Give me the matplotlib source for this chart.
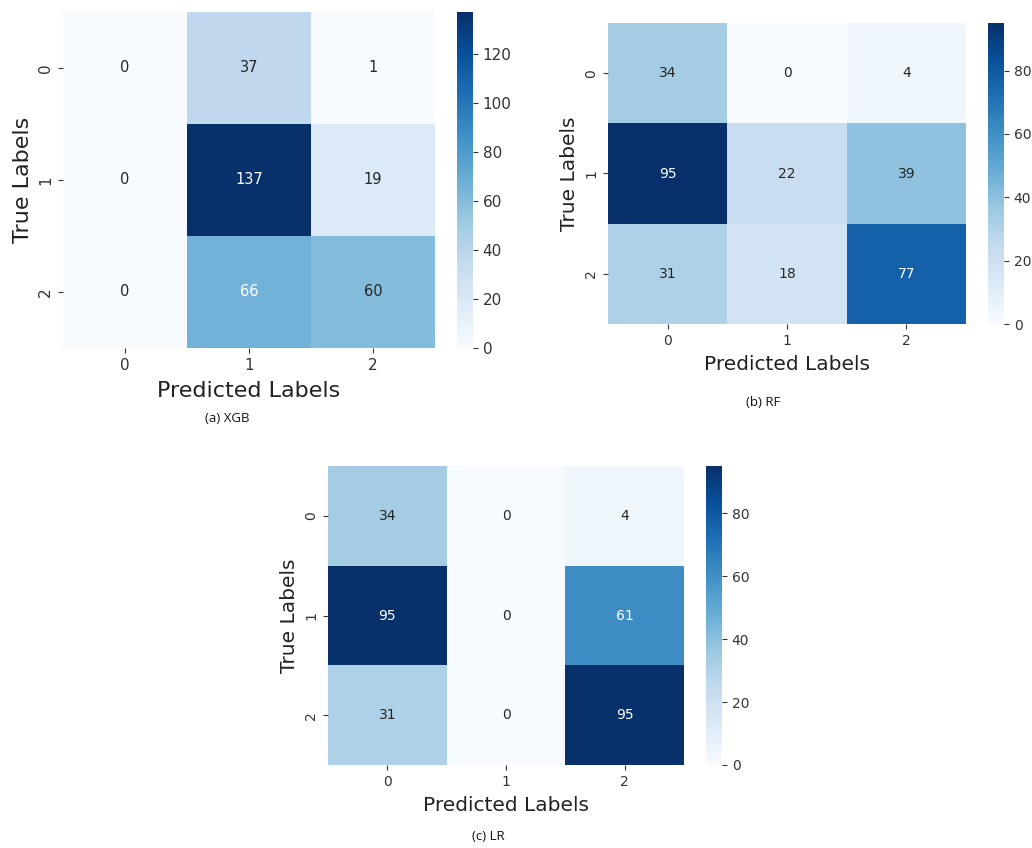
import matplotlib
matplotlib.use("Agg")
import matplotlib.pyplot as plt
import seaborn as sns
import numpy as np

# Confusion matrices (rows: true class, columns: predicted class)
class_labels = ["0", "1", "2"]
xgb_cm = [[0, 37, 1],
          [0, 137, 19],
          [0, 66, 60]]
rf_cm = [[34, 0, 4],
         [95, 22, 39],
         [31, 18, 77]]
lr_cm = [[34, 0, 4],
         [95, 0, 61],
         [31, 0, 95]]
captions = ["(a) XGB", "(b) RF", "(c) LR"]

W, H = 1032, 848
fig = plt.figure(figsize=(W / 100, H / 100), dpi=100)


def px_axes(x0, y0, x1, y1):
    """Add an axes given its box in pixels measured from the top-left corner."""
    return fig.add_axes([x0 / W, 1 - y1 / H, (x1 - x0) / W, (y1 - y0) / H])


panels = [
    # matrix, heatmap box, colorbar box, caption position, label sizes, xlabel pad
    (xgb_cm, (63, 12, 435, 348), (457, 12, 473, 348), (227, 419), 16, 11, 10.5, 6),
    (rf_cm, (608, 23, 966, 324), (988, 23, 1004, 324), (763, 403), 14.5, 10, 10, 5),
    (lr_cm, (328, 466, 684, 765), (706, 466, 722, 765), (488, 837), 14.5, 10, 10, 5),
]

for (cm, hbox, cbox, cap_xy, lab_fs, tick_fs, ann_fs, xpad), caption in zip(panels, captions):
    ax = px_axes(*hbox)
    cax = px_axes(*cbox)
    sns.heatmap(np.array(cm), annot=True, fmt="d", cmap="Blues",
                xticklabels=class_labels, yticklabels=class_labels,
                ax=ax, cbar_ax=cax, annot_kws={"size": ann_fs})
    ax.set_xlabel("Predicted Labels", fontsize=lab_fs, color="#222222", labelpad=xpad)
    ax.set_ylabel("True Labels", fontsize=lab_fs, color="#222222")
    ax.tick_params(labelsize=tick_fs, colors="#333333")
    for t in ax.get_yticklabels():
        t.set_rotation(90)
        t.set_va("center")
    cax.tick_params(labelsize=tick_fs, colors="#333333")
    fig.text(cap_xy[0] / W, 1 - cap_xy[1] / H, caption, ha="center", va="center",
             fontsize=9.5, family="Open Sans", color="#111111")

fig.savefig("out.png", dpi=100, facecolor="white")
